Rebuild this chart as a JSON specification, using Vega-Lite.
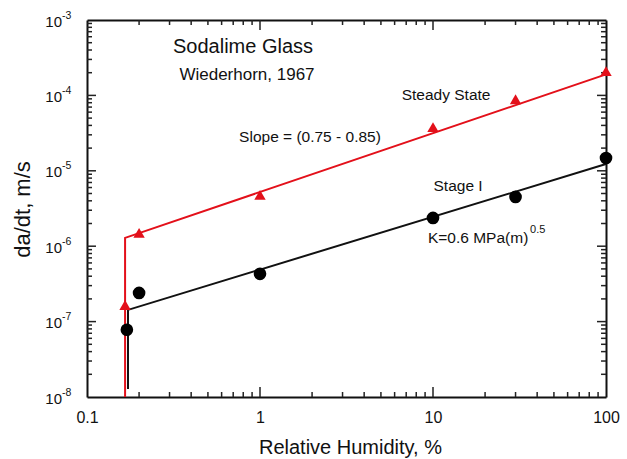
{
  "$schema": "https://vega.github.io/schema/vega-lite/v6.json",
  "width": 519,
  "height": 377,
  "autosize": "none",
  "padding": {"left": 87, "top": 20, "right": 21, "bottom": 62},
  "config": {
    "view": {"stroke": null},
    "font": "Liberation Sans",
    "axis": {
      "domainColor": "#111",
      "domainWidth": 2,
      "grid": false,
      "labelColor": "#111",
      "titleColor": "#111",
      "titleFontWeight": "normal"
    }
  },
  "datasets": {
    "steady": [
      {"rh": 0.166, "rate": 1.66e-7},
      {"rh": 0.2, "rate": 1.5e-6},
      {"rh": 1, "rate": 4.8e-6},
      {"rh": 10, "rate": 3.8e-5},
      {"rh": 30, "rate": 8.9e-5},
      {"rh": 100, "rate": 2.1e-4}
    ],
    "stage1": [
      {"rh": 0.17, "rate": 7.8e-8},
      {"rh": 0.2, "rate": 2.4e-7},
      {"rh": 1, "rate": 4.3e-7},
      {"rh": 10, "rate": 2.37e-6},
      {"rh": 30, "rate": 4.5e-6},
      {"rh": 100, "rate": 1.48e-5}
    ],
    "steadyFit": [
      {"seq": 0, "rh": 0.166, "rate": 1e-8},
      {"seq": 1, "rh": 0.166, "rate": 1.29e-6},
      {"seq": 2, "rh": 100, "rate": 1.9e-4}
    ],
    "stage1Fit": [
      {"seq": 0, "rh": 0.1726, "rate": 1.28e-8},
      {"seq": 1, "rh": 0.1726, "rate": 1.43e-7},
      {"seq": 2, "rh": 100, "rate": 1.23e-5}
    ],
    "decades": [
      {"rate": 1e-3, "exp": "-3"},
      {"rate": 1e-4, "exp": "-4"},
      {"rate": 1e-5, "exp": "-5"},
      {"rate": 1e-6, "exp": "-6"},
      {"rate": 1e-7, "exp": "-7"},
      {"rate": 1e-8, "exp": "-8"}
    ],
    "xMajor": [{"rh": 1}, {"rh": 10}],
    "xMinor": [
      {"rh": 0.2}, {"rh": 0.3}, {"rh": 0.4}, {"rh": 0.5}, {"rh": 0.6}, {"rh": 0.7}, {"rh": 0.8}, {"rh": 0.9},
      {"rh": 2}, {"rh": 3}, {"rh": 4}, {"rh": 5}, {"rh": 6}, {"rh": 7}, {"rh": 8}, {"rh": 9},
      {"rh": 20}, {"rh": 30}, {"rh": 40}, {"rh": 50}, {"rh": 60}, {"rh": 70}, {"rh": 80}, {"rh": 90}
    ],
    "yMajor": [{"rate": 1e-7}, {"rate": 1e-6}, {"rate": 1e-5}, {"rate": 1e-4}],
    "yMinor": [
      {"rate": 2e-8}, {"rate": 3e-8}, {"rate": 4e-8}, {"rate": 5e-8}, {"rate": 6e-8}, {"rate": 7e-8}, {"rate": 8e-8}, {"rate": 9e-8},
      {"rate": 2e-7}, {"rate": 3e-7}, {"rate": 4e-7}, {"rate": 5e-7}, {"rate": 6e-7}, {"rate": 7e-7}, {"rate": 8e-7}, {"rate": 9e-7},
      {"rate": 2e-6}, {"rate": 3e-6}, {"rate": 4e-6}, {"rate": 5e-6}, {"rate": 6e-6}, {"rate": 7e-6}, {"rate": 8e-6}, {"rate": 9e-6},
      {"rate": 2e-5}, {"rate": 3e-5}, {"rate": 4e-5}, {"rate": 5e-5}, {"rate": 6e-5}, {"rate": 7e-5}, {"rate": 8e-5}, {"rate": 9e-5},
      {"rate": 2e-4}, {"rate": 3e-4}, {"rate": 4e-4}, {"rate": 5e-4}, {"rate": 6e-4}, {"rate": 7e-4}, {"rate": 8e-4}, {"rate": 9e-4}
    ],
    "one": [{}]
  },
  "resolve": {"axis": {"x": "independent", "y": "independent"}},
  "layer": [
    {
      "data": {"name": "steadyFit"},
      "mark": {"type": "line", "color": "#e3101a", "strokeWidth": 2},
      "encoding": {
        "order": {"field": "seq"},
        "x": {
          "field": "rh", "type": "quantitative",
          "scale": {"type": "log", "domain": [0.1, 100], "nice": false},
          "axis": {
            "orient": "bottom",
            "values": [0.1, 1, 10, 100],
            "format": "~g",
            "tickSize": 0,
            "tickOpacity": 0,
            "labelFlush": false,
            "labelFontSize": 16,
            "labelPadding": 12,
            "title": "Relative Humidity, %",
            "titleFontSize": 20,
            "titleBaseline": "middle",
            "titleY": 50,
            "titleX": 263
          }
        },
        "y": {
          "field": "rate", "type": "quantitative",
          "scale": {"type": "log", "domain": [1e-8, 1e-3], "nice": false},
          "axis": {
            "orient": "left",
            "values": [1e-8, 1e-3],
            "labels": false,
            "tickSize": 0,
            "tickOpacity": 0,
            "title": "da/dt, m/s",
            "titleFontSize": 22,
            "titleAngle": -90,
            "titleBaseline": "middle",
            "titleX": -65,
            "titleY": 189
          }
        }
      }
    },
    {
      "data": {"name": "stage1Fit"},
      "mark": {"type": "line", "color": "#111", "strokeWidth": 2},
      "encoding": {
        "order": {"field": "seq"},
        "x": {
          "field": "rh", "type": "quantitative",
          "axis": {"orient": "bottom", "offset": -377, "values": [0.1, 100], "tickSize": 0, "tickOpacity": 0, "labels": false, "domain": true, "title": null}
        },
        "y": {
          "field": "rate", "type": "quantitative",
          "axis": {"orient": "left", "offset": -519, "values": [1e-8, 1e-3], "tickSize": 0, "tickOpacity": 0, "labels": false, "domain": true, "title": null}
        }
      }
    },
    {
      "data": {"name": "xMajor"},
      "mark": {"type": "rule", "color": "#222", "strokeWidth": 1.5},
      "encoding": {
        "x": {"field": "rh", "type": "quantitative", "axis": null},
        "y": {"datum": 1e-8, "type": "quantitative", "axis": null},
        "y2": {"datum": 1.357e-8}
      }
    },
    {
      "data": {"name": "xMajor"},
      "mark": {"type": "rule", "color": "#222", "strokeWidth": 1.5},
      "encoding": {
        "x": {"field": "rh", "type": "quantitative", "axis": null},
        "y": {"datum": 1e-3, "type": "quantitative", "axis": null},
        "y2": {"datum": 7.37e-4}
      }
    },
    {
      "data": {"name": "xMinor"},
      "mark": {"type": "rule", "color": "#222", "strokeWidth": 1.5},
      "encoding": {
        "x": {"field": "rh", "type": "quantitative", "axis": null},
        "y": {"datum": 1e-8, "type": "quantitative", "axis": null},
        "y2": {"datum": 1.165e-8}
      }
    },
    {
      "data": {"name": "xMinor"},
      "mark": {"type": "rule", "color": "#222", "strokeWidth": 1.5},
      "encoding": {
        "x": {"field": "rh", "type": "quantitative", "axis": null},
        "y": {"datum": 1e-3, "type": "quantitative", "axis": null},
        "y2": {"datum": 8.58e-4}
      }
    },
    {
      "data": {"name": "yMajor"},
      "mark": {"type": "rule", "color": "#222", "strokeWidth": 1.5},
      "encoding": {
        "y": {"field": "rate", "type": "quantitative", "axis": null},
        "x": {"datum": 0.1, "type": "quantitative", "axis": null},
        "x2": {"datum": 0.1127}
      }
    },
    {
      "data": {"name": "yMajor"},
      "mark": {"type": "rule", "color": "#222", "strokeWidth": 1.5},
      "encoding": {
        "y": {"field": "rate", "type": "quantitative", "axis": null},
        "x": {"datum": 100, "type": "quantitative", "axis": null},
        "x2": {"datum": 88.7}
      }
    },
    {
      "data": {"name": "yMinor"},
      "mark": {"type": "rule", "color": "#222", "strokeWidth": 1.5},
      "encoding": {
        "y": {"field": "rate", "type": "quantitative", "axis": null},
        "x": {"datum": 0.1, "type": "quantitative", "axis": null},
        "x2": {"datum": 0.1069}
      }
    },
    {
      "data": {"name": "yMinor"},
      "mark": {"type": "rule", "color": "#222", "strokeWidth": 1.5},
      "encoding": {
        "y": {"field": "rate", "type": "quantitative", "axis": null},
        "x": {"datum": 100, "type": "quantitative", "axis": null},
        "x2": {"datum": 93.6}
      }
    },
    {
      "data": {"name": "steady"},
      "mark": {"type": "point", "shape": "triangle-up", "filled": true, "color": "#e3101a", "size": 130, "opacity": 1},
      "encoding": {
        "x": {"field": "rh", "type": "quantitative", "axis": null},
        "y": {"field": "rate", "type": "quantitative", "axis": null}
      }
    },
    {
      "data": {"name": "stage1"},
      "mark": {"type": "circle", "color": "#000", "size": 160, "opacity": 1},
      "encoding": {
        "x": {"field": "rh", "type": "quantitative", "axis": null},
        "y": {"field": "rate", "type": "quantitative", "axis": null}
      }
    },
    {
      "data": {"name": "decades"},
      "mark": {"type": "text", "fontSize": 15, "color": "#111", "align": "right", "baseline": "middle", "dx": -25, "dy": 1.5},
      "encoding": {
        "x": {"datum": 0.1, "type": "quantitative", "axis": null},
        "y": {"field": "rate", "type": "quantitative", "axis": null},
        "text": {"value": "10"}
      }
    },
    {
      "data": {"name": "decades"},
      "mark": {"type": "text", "fontSize": 10.5, "color": "#111", "align": "left", "baseline": "middle", "dx": -25, "dy": -4.5},
      "encoding": {
        "x": {"datum": 0.1, "type": "quantitative", "axis": null},
        "y": {"field": "rate", "type": "quantitative", "axis": null},
        "text": {"field": "exp"}
      }
    },
    {
      "data": {"name": "one"},
      "mark": {"type": "text", "fontSize": 20, "color": "#111", "align": "center", "baseline": "middle"},
      "encoding": {
        "x": {"datum": 0.798, "type": "quantitative", "axis": null},
        "y": {"datum": 4.39e-4, "type": "quantitative", "axis": null},
        "text": {"value": "Sodalime Glass"}
      }
    },
    {
      "data": {"name": "one"},
      "mark": {"type": "text", "fontSize": 17, "color": "#111", "align": "center", "baseline": "middle"},
      "encoding": {
        "x": {"datum": 0.841, "type": "quantitative", "axis": null},
        "y": {"datum": 1.866e-4, "type": "quantitative", "axis": null},
        "text": {"value": "Wiederhorn, 1967"}
      }
    },
    {
      "data": {"name": "one"},
      "mark": {"type": "text", "fontSize": 15.5, "color": "#111", "align": "center", "baseline": "middle"},
      "encoding": {
        "x": {"datum": 11.9, "type": "quantitative", "axis": null},
        "y": {"datum": 1.01e-4, "type": "quantitative", "axis": null},
        "text": {"value": "Steady State"}
      }
    },
    {
      "data": {"name": "one"},
      "mark": {"type": "text", "fontSize": 15.5, "color": "#111", "align": "center", "baseline": "middle"},
      "encoding": {
        "x": {"datum": 1.945, "type": "quantitative", "axis": null},
        "y": {"datum": 2.81e-5, "type": "quantitative", "axis": null},
        "text": {"value": "Slope = (0.75 - 0.85)"}
      }
    },
    {
      "data": {"name": "one"},
      "mark": {"type": "text", "fontSize": 15.5, "color": "#111", "align": "center", "baseline": "middle"},
      "encoding": {
        "x": {"datum": 13.96, "type": "quantitative", "axis": null},
        "y": {"datum": 6.29e-6, "type": "quantitative", "axis": null},
        "text": {"value": "Stage I"}
      }
    },
    {
      "data": {"name": "one"},
      "mark": {"type": "text", "fontSize": 15.5, "color": "#111", "align": "left", "baseline": "middle"},
      "encoding": {
        "x": {"datum": 9.35, "type": "quantitative", "axis": null},
        "y": {"datum": 1.285e-6, "type": "quantitative", "axis": null},
        "text": {"value": "K=0.6 MPa(m)"}
      }
    },
    {
      "data": {"name": "one"},
      "mark": {"type": "text", "fontSize": 11, "color": "#111", "align": "left", "baseline": "middle"},
      "encoding": {
        "x": {"datum": 36.4, "type": "quantitative", "axis": null},
        "y": {"datum": 1.64e-6, "type": "quantitative", "axis": null},
        "text": {"value": "0.5"}
      }
    }
  ]
}
